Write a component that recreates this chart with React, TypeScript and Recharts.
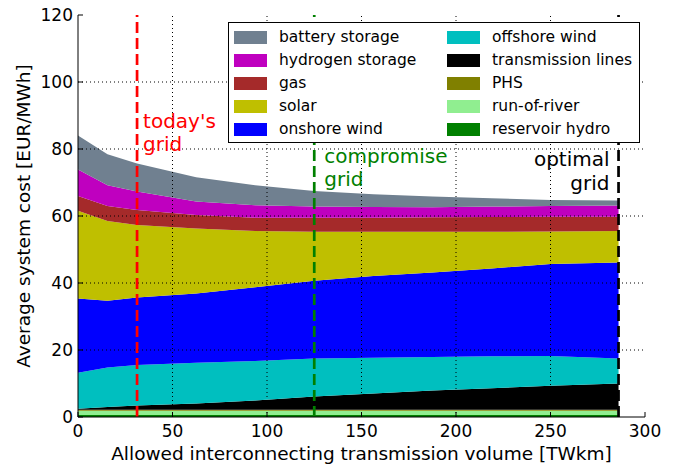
import React from 'react';
import { AreaChart, Area, XAxis, YAxis, ReferenceLine, Legend } from 'recharts';

// x positions: allowed interconnecting transmission volume [TWkm]
const volume = [0, 15.6, 31.25, 62.5, 93.75, 125, 156.25, 187.5, 218.75, 250, 286];

// cost contributions [EUR/MWh], stacked bottom to top
const reservoirHydro = [0.6, 0.6, 0.6, 0.6, 0.6, 0.6, 0.6, 0.6, 0.6, 0.6, 0.6];
const runOfRiver = [1.3, 1.3, 1.3, 1.3, 1.3, 1.3, 1.3, 1.3, 1.3, 1.3, 1.3];
const phs = [0.3, 0.3, 0.3, 0.3, 0.3, 0.3, 0.3, 0.3, 0.3, 0.3, 0.3];
const transmissionLines = [0.3, 0.8, 1.2, 1.8, 2.7, 3.9, 4.8, 5.7, 6.4, 7.1, 7.8];
const offshoreWind = [10.7, 11.8, 12.1, 12.2, 11.8, 11.4, 10.7, 10.0, 9.5, 8.9, 7.5];
const onshoreWind = [22.2, 19.9, 20.2, 20.7, 22.0, 23.2, 24.4, 25.2, 26.2, 27.5, 28.6];
const solar = [26.2, 23.8, 21.6, 19.4, 16.8, 14.6, 13.2, 12.2, 11.0, 9.7, 9.4];
const gas = [4.4, 4.5, 4.5, 4.0, 4.0, 4.2, 4.2, 4.3, 4.4, 4.4, 4.3];
const hydrogenStorage = [7.9, 6.2, 5.5, 4.0, 3.7, 3.3, 3.2, 3.0, 3.1, 3.2, 3.3];
const batteryStorage = [10.1, 9.2, 8.4, 7.3, 6.0, 4.7, 3.8, 3.2, 2.5, 1.8, 1.5];

// axis ticks
const xTicks = [0, 50, 100, 150, 200, 250, 300];
const yTicks = [0, 20, 40, 60, 80, 100, 120];

// scenario markers
const todayGrid = 31.25;
const compromiseGrid = 125;
const optimalGrid = 286;

const seriesKeys = [
  'reservoir hydro',
  'run-of-river',
  'PHS',
  'transmission lines',
  'offshore wind',
  'onshore wind',
  'solar',
  'gas',
  'hydrogen storage',
  'battery storage',
];
const seriesValues = [
  reservoirHydro,
  runOfRiver,
  phs,
  transmissionLines,
  offshoreWind,
  onshoreWind,
  solar,
  gas,
  hydrogenStorage,
  batteryStorage,
];
const colors: Record<string, string> = {
  'reservoir hydro': '#008000',
  'run-of-river': '#90ee90',
  PHS: '#808000',
  'transmission lines': '#000000',
  'offshore wind': '#00bfbf',
  'onshore wind': '#0000ff',
  solar: '#bfbf00',
  gas: '#a52a2a',
  'hydrogen storage': '#bf00bf',
  'battery storage': '#708090',
};
const legendOrder = [
  'battery storage',
  'hydrogen storage',
  'gas',
  'solar',
  'onshore wind',
  'offshore wind',
  'transmission lines',
  'PHS',
  'run-of-river',
  'reservoir hydro',
];

const data = volume.map((v, i) => {
  const row: Record<string, number> = { volume: v };
  seriesKeys.forEach((k, j) => {
    row[k] = seriesValues[j][i];
  });
  return row;
});

const FONT = "'DejaVu Sans', sans-serif";

const BottomTick = (props: any) => {
  const { x, y, payload } = props;
  return (
    <g>
      <line x1={x} y1={y} x2={x} y2={y - 5} stroke="#000" strokeWidth={1} />
      <text x={x} y={y + 20} textAnchor="middle" fontSize={17} fontFamily={FONT} fill="#000">
        {payload.value}
      </text>
    </g>
  );
};
const TopTick = (props: any) => {
  const { x, y } = props;
  return <line x1={x} y1={y} x2={x} y2={y + 5} stroke="#000" strokeWidth={1} />;
};
const LeftTick = (props: any) => {
  const { x, y, payload } = props;
  return (
    <g>
      <line x1={x} y1={y} x2={x + 5} y2={y} stroke="#000" strokeWidth={1} />
      <text x={x - 5} y={y + 6} textAnchor="end" fontSize={17} fontFamily={FONT} fill="#000">
        {payload.value}
      </text>
    </g>
  );
};
const RightTick = (props: any) => {
  const { x, y } = props;
  return <line x1={x} y1={y} x2={x - 5} y2={y} stroke="#000" strokeWidth={1} />;
};

const makeNote = (lines: string[], color: string, anchor: 'start' | 'end', dx: number, dy0: number, step: number) =>
  (props: any) => {
    const vb = props.viewBox || {};
    const x = (vb.x || 0) + dx;
    const y0 = (vb.y || 0) + dy0;
    return (
      <text x={x} y={y0} textAnchor={anchor} fontSize={20} fontFamily={FONT} fill={color}>
        {lines.map((l, i) => (
          <tspan key={i} x={x} y={y0 + i * step}>
            {l}
          </tspan>
        ))}
      </text>
    );
  };

const LegendBox = () => (
  <div
    style={{
      position: 'relative',
      width: 412,
      height: 121,
      border: '1px solid #000',
      background: '#fff',
      boxSizing: 'border-box',
      fontFamily: FONT,
      fontSize: 15.5,
      color: '#000',
    }}
  >
    {legendOrder.map((name, i) => {
      const col = Math.floor(i / 5);
      const row = i % 5;
      const cy = 14 + row * 23.1;
      return (
        <React.Fragment key={name}>
          <div
            style={{
              position: 'absolute',
              left: 5 + col * 213,
              top: cy - 6.5,
              width: 33,
              height: 13,
              background: colors[name],
            }}
          />
          <div
            style={{
              position: 'absolute',
              left: 50 + col * 213,
              top: cy - 10,
              height: 20,
              lineHeight: '20px',
              whiteSpace: 'nowrap',
            }}
          >
            {name}
          </div>
        </React.Fragment>
      );
    })}
  </div>
);

export default function App() {
  return (
    <div style={{ position: 'absolute', left: 0, top: 0, width: 682, height: 469, background: '#fff', fontFamily: FONT }}>
      <AreaChart width={682} height={469} data={data} margin={{ top: 15, right: 37, bottom: 0, left: 0 }}>
        {seriesKeys.map((k) => (
          <Area
            key={k}
            type="linear"
            dataKey={k}
            stackId="1"
            stroke="none"
            fill={colors[k]}
            fillOpacity={1}
            isAnimationActive={false}
            dot={false}
            activeDot={false}
          />
        ))}
        {xTicks.slice(1, -1).map((t) => (
          <ReferenceLine key={'gx' + t} x={t} stroke="#000" strokeWidth={1} strokeDasharray="1 3" />
        ))}
        {yTicks.slice(1, -1).map((t) => (
          <ReferenceLine key={'gy' + t} y={t} stroke="#000" strokeWidth={1} strokeDasharray="1 3" />
        ))}
        <ReferenceLine
          x={todayGrid}
          stroke="#ff0000"
          strokeWidth={2.7}
          strokeDasharray="11 5"
          label={{ content: makeNote(["today's", 'grid'], '#ff0000', 'start', 6, 113, 23) }}
        />
        <ReferenceLine
          x={compromiseGrid}
          stroke="#008000"
          strokeWidth={2.7}
          strokeDasharray="11 5"
          label={{ content: makeNote(['compromise', 'grid'], '#008000', 'start', 10, 148, 23) }}
        />
        <ReferenceLine
          x={optimalGrid}
          stroke="#000000"
          strokeWidth={2.7}
          strokeDasharray="11 5"
          label={{ content: makeNote(['optimal', 'grid'], '#000000', 'end', -9, 151, 24) }}
        />
        <XAxis
          dataKey="volume"
          type="number"
          domain={[0, 300]}
          ticks={xTicks}
          height={52}
          tickSize={0}
          tickMargin={0}
          tickLine={false}
          tick={<BottomTick />}
          axisLine={{ stroke: '#000', strokeWidth: 1 }}
          interval={0}
          label={{
            value: 'Allowed interconnecting transmission volume [TWkm]',
            position: 'insideBottom',
            offset: 9,
            fontSize: 18.5,
            fontFamily: FONT,
            fill: '#000',
          }}
        />
        <XAxis
          xAxisId="top"
          orientation="top"
          dataKey="volume"
          type="number"
          domain={[0, 300]}
          ticks={xTicks}
          height={0}
          tickSize={0}
          tickMargin={0}
          tickLine={false}
          tick={<TopTick />}
          axisLine={{ stroke: '#000', strokeWidth: 1 }}
          interval={0}
        />
        <YAxis
          type="number"
          domain={[0, 120]}
          ticks={yTicks}
          width={78}
          tickSize={0}
          tickMargin={0}
          tickLine={false}
          tick={<LeftTick />}
          axisLine={{ stroke: '#000', strokeWidth: 1 }}
          interval={0}
          label={{
            content: (p: any) => {
              const vb = p.viewBox || {};
              const cx = (vb.x || 0) + 23;
              const cy = (vb.y || 0) + (vb.height || 0) / 2;
              return (
                <text
                  x={cx}
                  y={cy}
                  transform={`rotate(-90 ${cx} ${cy})`}
                  textAnchor="middle"
                  dominantBaseline="central"
                  fontSize={18.5}
                  fontFamily={FONT}
                  fill="#000"
                >
                  Average system cost [EUR/MWh]
                </text>
              );
            },
          }}
        />
        <YAxis
          yAxisId="right"
          orientation="right"
          type="number"
          domain={[0, 120]}
          ticks={yTicks}
          width={0}
          tickSize={0}
          tickMargin={0}
          tickLine={false}
          tick={<RightTick />}
          axisLine={{ stroke: '#000', strokeWidth: 1 }}
          interval={0}
        />
        <Legend
          layout="vertical"
          align="center"
          verticalAlign="middle"
          content={<LegendBox />}
          wrapperStyle={{ position: 'absolute', left: 228, top: 22, width: 412, height: 121, margin: 0 }}
        />
      </AreaChart>
    </div>
  );
}
